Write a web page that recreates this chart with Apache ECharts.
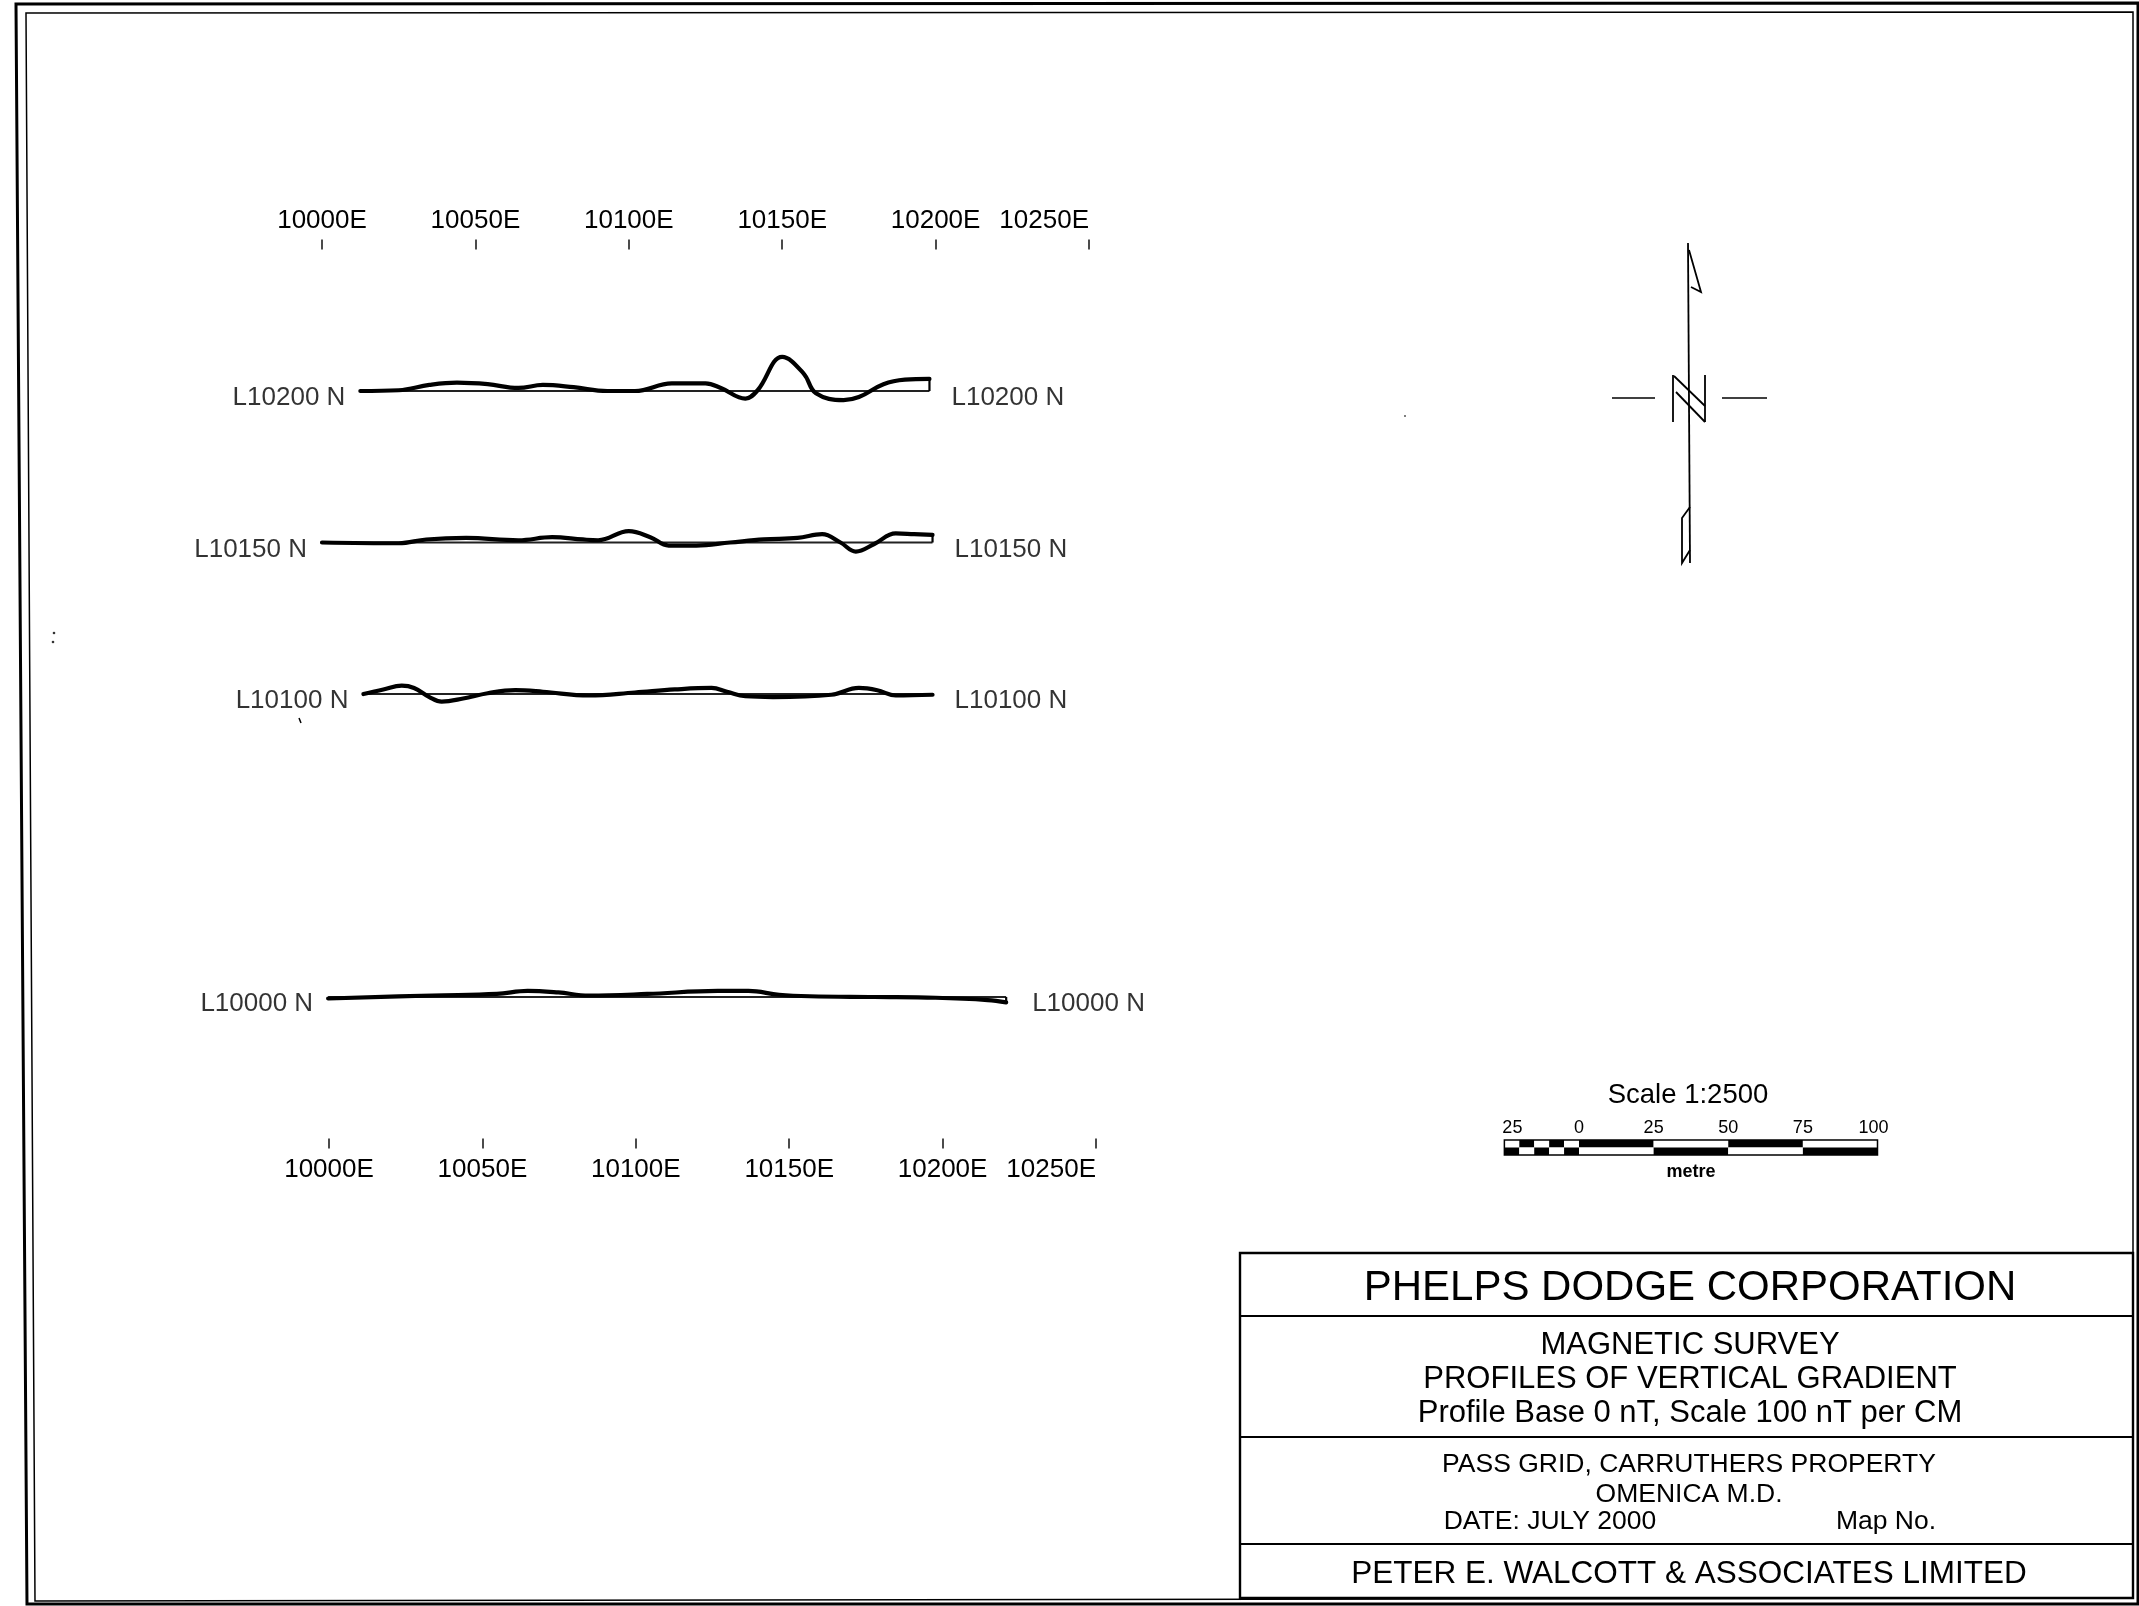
<!DOCTYPE html>
<html><head><meta charset="utf-8">
<script src="https://cdn.jsdelivr.net/npm/echarts@6/dist/echarts.min.js"></script>
<style>html,body{margin:0;padding:0;background:#fff}#c{width:2139px;height:1606px}</style>
</head><body><div id="c"></div>
<script>
// ---- data ----
const eastTicks = [10000, 10050, 10100, 10150, 10200, 10250];
const lineNames = ['L10200 N', 'L10150 N', 'L10100 N', 'L10000 N'];
const lineNorthings = [10200, 10150, 10100, 10000];
const east10200 = [10012.5, 10025, 10035, 10044, 10054, 10064, 10072, 10082, 10093, 10102, 10114, 10125, 10130, 10138, 10142, 10150, 10157, 10161, 10170, 10175, 10183, 10190, 10198];
const grad10200 = [0, 1, 8, 11, 9, 4, 8, 5, 0, 0, 10, 10, 4, -10, 1, 45, 23, -3, -12, -8, 9, 15, 16];
const east10150 = [10000, 10025, 10034, 10047, 10064, 10075, 10085, 10090, 10100, 10107, 10113, 10122, 10133, 10144, 10155, 10163, 10169, 10174, 10180, 10187, 10193, 10199];
const grad10150 = [0, -1, 4, 6, 3, 7, 4, 3, 15, 7, -4, -4, 0, 4, 6, 11, 0, -12, -2, 12, 11, 10];
const east10100 = [10013.5, 10020, 10026, 10030, 10035, 10039, 10046, 10054, 10063, 10072, 10087, 10102, 10115, 10127, 10132, 10138, 10147, 10166, 10175, 10181, 10187, 10199];
const grad10100 = [0, 6, 11, 8, -4, -10, -6, 1, 5, 3, -2, 2, 6, 8, 3, -3, -4, -1, 8, 5, -2, -1];
const east10000 = [10002, 10036, 10057, 10067, 10077, 10087, 10106, 10129, 10139, 10149, 10159, 10180, 10200, 10217, 10223];
const grad10000 = [-2, 2, 4, 8, 6, 2, 4, 8, 8, 3, 1, 0, -1, -4, -7];
const profileEast = [east10200, east10150, east10100, east10000];
const profileGrad = [grad10200, grad10150, grad10100, grad10000];
const scaleBarTicks = [-25, 0, 25, 50, 75, 100];
const scaleBarCuts = [-25, -20, -15, -10, -5, 0, 25, 50, 75, 100];

// profile scale: 100 nT per cm at 1:2500 -> 0.25 m of northing per nT
const M_PER_NT = 0.25;
const FONT = '"Liberation Sans", Arial, Helvetica, sans-serif';
const INK = '#000';

const series = [];
profileEast.forEach((es, i) => {
  const n = lineNorthings[i];
  const gs = profileGrad[i];
  const e0 = es[0], e1 = es[es.length - 1];
  series.push({ type: 'line', xAxisIndex: 0, yAxisIndex: 0, clip: false, silent: true, symbol: 'none',
    lineStyle: { color: '#222', width: 1.8 }, data: [[e0, n], [e1, n]], z: 2 });
  series.push({ type: 'line', xAxisIndex: 0, yAxisIndex: 0, clip: false, silent: true, symbol: 'none',
    smooth: 0.4, lineStyle: { color: INK, width: 4.2, cap: 'round', join: 'round' },
    data: es.map((e, k) => [e, n + gs[k] * M_PER_NT]), z: 3 });
  series.push({ type: 'line', xAxisIndex: 0, yAxisIndex: 0, clip: false, silent: true, symbol: 'none',
    lineStyle: { color: INK, width: 2.2 }, data: [[e1, n + gs[gs.length - 1] * M_PER_NT], [e1, n]], z: 3 });
  series.push({ type: 'scatter', xAxisIndex: 0, yAxisIndex: 0, clip: false, silent: true, symbolSize: 0,
    label: { show: true, formatter: lineNames[i], fontFamily: FONT, fontSize: 26, color: INK, offset: [0, 7] },
    data: [{ value: [e0, n], label: { position: 'left', distance: 15 } },
           { value: [e1, n], label: { position: 'right', distance: i === 3 ? 26 : 22 } }] });
});

// ---- furniture (border, north arrow, scale bar, title block) ----
const g = [];
const ln = (x1, y1, x2, y2, w) => g.push({ type: 'line', shape: { x1, y1, x2, y2 }, style: { stroke: INK, lineWidth: w || 1.8 } });
const txt = (text, x, y, size, weight) => g.push({ type: 'text', x, y,
  style: { text, font: (weight || 'normal') + ' ' + size + 'px ' + FONT, fill: INK, align: 'center', verticalAlign: 'middle' } });
g.push({ type: 'polygon', shape: { points: [[16, 4], [2138, 3], [2138, 1604], [27, 1604]] }, style: { stroke: INK, lineWidth: 3, fill: null } });
g.push({ type: 'polygon', shape: { points: [[26, 13], [2133, 12], [2133, 1598], [35, 1601]] }, style: { stroke: INK, lineWidth: 1.5, fill: null } });
// scan specks
g.push({ type: 'circle', shape: { cx: 54, cy: 633, r: 1.3 }, style: { fill: '#333' } });
g.push({ type: 'circle', shape: { cx: 53, cy: 642, r: 1.3 }, style: { fill: '#333' } });
ln(299, 718, 301, 723, 1.5);
g.push({ type: 'circle', shape: { cx: 1405, cy: 416, r: 1 }, style: { fill: '#555' } });

// north arrow
ln(1688, 243, 1690, 563, 1.8);
g.push({ type: 'polyline', shape: { points: [[1689, 250], [1701, 292], [1691, 287]] }, style: { stroke: INK, lineWidth: 1.8, fill: null } });
g.push({ type: 'polyline', shape: { points: [[1690, 507], [1682, 518], [1682, 563], [1690, 550]] }, style: { stroke: INK, lineWidth: 1.8, fill: null } });
ln(1612, 398, 1655, 398, 1.6);
ln(1722, 398, 1767, 398, 1.6);
ln(1673, 375, 1673, 422, 1.8);
ln(1705, 375, 1705, 422, 1.8);
ln(1674, 376, 1705, 406, 1.8);
ln(1676, 392, 1705, 422, 1.8);

// scale bar
const sbX0 = 1579, sbPx = 2.985, sbTop = 1140, sbMid = 1147.5, sbBot = 1155;
for (let k = 0; k < scaleBarCuts.length - 1; k++) {
  const xa = sbX0 + scaleBarCuts[k] * sbPx, xb = sbX0 + scaleBarCuts[k + 1] * sbPx;
  const topBlack = k % 2 === 1;
  g.push({ type: 'rect', shape: { x: xa, y: sbTop, width: xb - xa, height: sbMid - sbTop }, style: { fill: topBlack ? INK : '#fff' } });
  g.push({ type: 'rect', shape: { x: xa, y: sbMid, width: xb - xa, height: sbBot - sbMid }, style: { fill: topBlack ? '#fff' : INK } });
}
g.push({ type: 'rect', shape: { x: sbX0 - 25 * sbPx, y: sbTop, width: 125 * sbPx, height: sbBot - sbTop }, style: { stroke: INK, lineWidth: 1.5, fill: null } });
scaleBarTicks.forEach(t => txt(String(Math.abs(t)), sbX0 + t * sbPx + (t === 100 ? -4 : t === -25 ? 8 : 0), 1128, 18));
txt('Scale 1:2500', 1688, 1095, 27.5);
txt('metre', 1691, 1172, 18, 'bold');

// title block
g.push({ type: 'rect', shape: { x: 1240, y: 1253, width: 893, height: 345 }, style: { stroke: INK, lineWidth: 2.4, fill: null } });
ln(1240, 1316, 2133, 1316, 2);
ln(1240, 1437, 2133, 1437, 2);
ln(1240, 1544, 2133, 1544, 2);
txt('PHELPS DODGE CORPORATION', 1690, 1288, 42);
txt('MAGNETIC SURVEY', 1690, 1345, 31);
txt('PROFILES OF VERTICAL GRADIENT', 1690, 1379, 31);
txt('Profile Base 0 nT, Scale 100 nT per CM', 1690, 1413, 31);
txt('PASS GRID, CARRUTHERS PROPERTY', 1689, 1465, 26.5);
txt('OMENICA M.D.', 1689, 1495, 26.5);
txt('DATE: JULY 2000', 1550, 1522, 26.5);
txt('Map No.', 1886, 1522, 26.5);
txt('PETER E. WALCOTT & ASSOCIATES LIMITED', 1689, 1574, 31.5);

const axisCommon = (pos, grid) => ({
  type: 'value', gridIndex: grid, position: pos, min: eastTicks[0], max: eastTicks[eastTicks.length - 1], interval: 50,
  axisLine: { show: false }, splitLine: { show: false },
  axisTick: { show: true, inside: true, length: 10, lineStyle: { color: '#111', width: 1.5 } },
  axisLabel: { show: true, formatter: v => v + 'E', fontFamily: FONT, fontSize: 26, color: INK, margin: pos === 'top' ? 6 : 8,
    showMinLabel: true, showMaxLabel: true, alignMaxLabel: 'right' }
});

const chart = echarts.init(document.getElementById('c'), null, { renderer: 'canvas' });
chart.setOption({
  animation: false,
  backgroundColor: '#fff',
  grid: [
    { left: 322, width: 767, top: 239.5, height: 909 },
    { left: 329, width: 767, top: 239.5, height: 909 }
  ],
  xAxis: [axisCommon('top', 0), axisCommon('bottom', 1)],
  yAxis: [
    { type: 'value', gridIndex: 0, min: 9950, max: 10250, show: false },
    { type: 'value', gridIndex: 1, min: 9950, max: 10250, show: false }
  ],
  series,
  graphic: { elements: g }
});
</script></body></html>
